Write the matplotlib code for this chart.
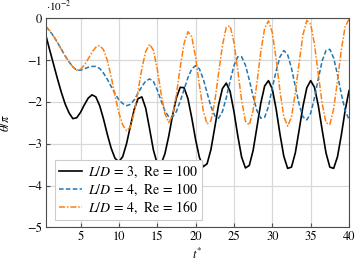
import matplotlib
matplotlib.use("Agg")
import matplotlib.pyplot as plt
import numpy as np

plt.rcParams['font.family'] = 'STIXGeneral'
plt.rcParams['mathtext.fontset'] = 'stix'
plt.rcParams['font.size'] = 9

# time samples t* (every 0.5)
t = np.arange(0.5, 40.01, 0.5)

# theta/pi in units of 1e-2
ld3_re100 = [
    -0.42, -0.77, -1.11, -1.45, -1.77, -2.05, -2.26, -2.40, -2.38, -2.25,
    -2.07, -1.91, -1.83, -1.88, -2.09, -2.41, -2.78, -3.11, -3.35, -3.43,
    -3.31, -3.00, -2.58, -2.18, -1.92, -1.88, -2.15, -2.64, -3.15, -3.48,
    -3.49, -3.24, -2.82, -2.32, -1.90, -1.65, -1.66, -1.92, -2.38, -2.90,
    -3.33, -3.55, -3.48, -3.14, -2.61, -2.07, -1.68, -1.55, -1.75, -2.23,
    -2.81, -3.32, -3.58, -3.52, -3.16, -2.60, -2.03, -1.62, -1.49, -1.69,
    -2.17, -2.77, -3.30, -3.59, -3.56, -3.22, -2.67, -2.10, -1.66, -1.49,
    -1.65, -2.09, -2.67, -3.22, -3.56, -3.59, -3.31, -2.79, -2.20, -1.73,
]
ld4_re100 = [
    -0.20, -0.30, -0.43, -0.58, -0.74, -0.90, -1.04, -1.16, -1.24, -1.24,
    -1.21, -1.17, -1.15, -1.15, -1.20, -1.31, -1.46, -1.63, -1.80, -1.95,
    -2.04, -2.09, -2.06, -1.95, -1.79, -1.63, -1.50, -1.45, -1.51, -1.71,
    -1.97, -2.21, -2.36, -2.36, -2.23, -1.98, -1.70, -1.42, -1.21, -1.13,
    -1.21, -1.45, -1.78, -2.11, -2.33, -2.39, -2.23, -1.90, -1.50, -1.13,
    -0.92, -0.92, -1.12, -1.47, -1.87, -2.21, -2.39, -2.37, -2.11, -1.66,
    -1.26, -0.92, -0.77, -0.87, -1.19, -1.63, -2.06, -2.36, -2.43, -2.27,
    -1.90, -1.44, -1.02, -0.77, -0.74, -0.95, -1.35, -1.81, -2.21, -2.42,
]
ld4_re160 = [
    -0.20, -0.30, -0.43, -0.58, -0.74, -0.90, -1.04, -1.16, -1.24, -1.22,
    -1.12, -0.97, -0.81, -0.69, -0.65, -0.75, -1.01, -1.40, -1.85, -2.26,
    -2.55, -2.69, -2.60, -2.25, -1.74, -1.20, -0.79, -0.62, -0.76, -1.21,
    -1.79, -2.28, -2.49, -2.33, -1.82, -1.17, -0.60, -0.32, -0.44, -0.93,
    -1.60, -2.21, -2.53, -2.45, -1.99, -1.31, -0.65, -0.21, -0.18, -0.57,
    -1.25, -1.96, -2.46, -2.55, -2.20, -1.54, -0.80, -0.24, -0.06, -0.34,
    -0.97, -1.74, -2.35, -2.58, -2.36, -1.78, -1.05, -0.39, -0.05, -0.14,
    -0.62, -1.34, -2.04, -2.50, -2.54, -2.16, -1.49, -0.75, -0.19, -0.02,
]

labels = [r"$L/D$ = 3,  Re = 100",
          r"$L/D$ = 4,  Re = 100",
          r"$L/D$ = 4,  Re = 160"]

fig = plt.figure(figsize=(3.61, 2.66), dpi=100)
ax = fig.add_axes([0.1274, 0.1455, 0.8394, 0.7855])

ax.plot(t, ld3_re100, color='black', lw=1.2, label=labels[0])
ax.plot(t, ld4_re100, color='#1f77b4', lw=1.1, ls=(0, (3, 1.5)), label=labels[1])
ax.plot(t, ld4_re160, color='#ff7f0e', lw=1.1, ls=(0, (4, 1.2, 1, 1.2)), label=labels[2])

ax.set_xlim(0.5, 40)
ax.set_ylim(-5, 0)
ax.set_xticks([5, 10, 15, 20, 25, 30, 35, 40])
ax.set_yticks([0, -1, -2, -3, -4, -5])
ax.grid(True, color='#d8d8d8', lw=0.9)
ax.set_axisbelow(True)
ax.tick_params(direction='in', length=3, color='0.3', pad=3)
for s in ax.spines.values():
    s.set_color('0.3')

ax.set_xlabel(r"$t^{*}$", labelpad=3)
ax.set_ylabel(r"$\theta/\pi$")
ax.yaxis.set_label_coords(-0.112, 0.5)
ax.text(0.0, 1.035, r"$\cdot 10^{-2}$", transform=ax.transAxes,
        ha='left', va='baseline', fontsize=8)

leg = ax.legend(loc='lower left', bbox_to_anchor=(0.03, 0.035), borderaxespad=0,
                fancybox=False, edgecolor='#cccccc', framealpha=1,
                fontsize=10, handlelength=1.65, handletextpad=0.4,
                labelspacing=0.12, borderpad=0.3)
leg.get_frame().set_linewidth(0.8)

fig.savefig("out.png", dpi=100)
